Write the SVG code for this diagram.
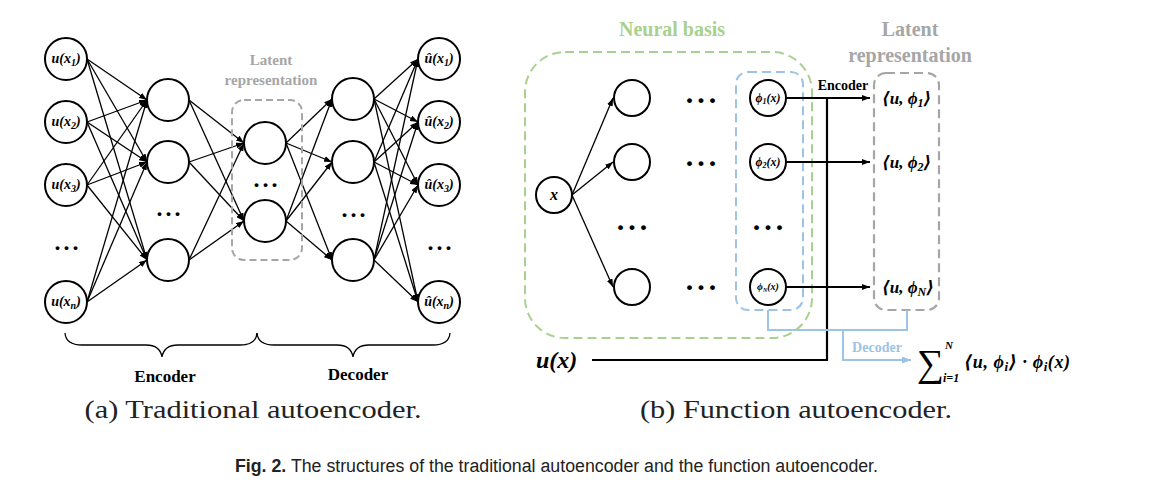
<svg xmlns="http://www.w3.org/2000/svg" width="1153" height="491" viewBox="0 0 1153 491">
<defs>
<marker id="ah" viewBox="0 0 10 10" refX="10" refY="5" markerUnits="userSpaceOnUse" markerWidth="8" markerHeight="6" preserveAspectRatio="none" orient="auto"><path d="M0,0 L10,5 L0,10 z" fill="#000"/></marker>
<marker id="ahb" viewBox="0 0 10 10" refX="10" refY="5" markerUnits="userSpaceOnUse" markerWidth="9" markerHeight="7" preserveAspectRatio="none" orient="auto"><path d="M0,0 L10,5 L0,10 z" fill="#9dc3e6"/></marker>
</defs>
<style>
.n{fill:#fff;stroke:#000;stroke-width:2}
.e{stroke:#000;stroke-width:1.3;fill:none;marker-end:url(#ah)}
.ml{font-family:"Liberation Serif","DejaVu Serif",serif;font-weight:bold;font-style:italic;fill:#000}
.dots{font-family:"Liberation Serif",serif;font-weight:bold;fill:#000;text-anchor:middle}
.lbl{font-family:"Liberation Serif",serif;font-weight:bold;fill:#000;text-anchor:middle}
.gray{fill:#a6a6a6}
.cap{font-family:"Liberation Serif",serif;fill:#222;text-anchor:middle}
.sub{font-size:10px}
</style>
<rect width="1153" height="491" fill="#fff"/>

<!-- ============ LEFT: traditional autoencoder ============ -->
<g id="left-edges">
<line class="e" x1="87" y1="59" x2="147" y2="100"/><line class="e" x1="87" y1="59" x2="147" y2="162"/><line class="e" x1="87" y1="59" x2="147" y2="260"/>
<line class="e" x1="87" y1="122" x2="147" y2="100"/><line class="e" x1="87" y1="122" x2="147" y2="162"/><line class="e" x1="87" y1="122" x2="147" y2="260"/>
<line class="e" x1="87" y1="185" x2="147" y2="100"/><line class="e" x1="87" y1="185" x2="147" y2="162"/><line class="e" x1="87" y1="185" x2="147" y2="260"/>
<line class="e" x1="87" y1="302" x2="147" y2="100"/><line class="e" x1="87" y1="302" x2="147" y2="162"/><line class="e" x1="87" y1="302" x2="147" y2="260"/>
<line class="e" x1="189" y1="100" x2="244" y2="143"/><line class="e" x1="189" y1="100" x2="244" y2="221"/>
<line class="e" x1="189" y1="162" x2="244" y2="143"/><line class="e" x1="189" y1="162" x2="244" y2="221"/>
<line class="e" x1="189" y1="260" x2="244" y2="143"/><line class="e" x1="189" y1="260" x2="244" y2="221"/>
<line class="e" x1="286" y1="143" x2="332" y2="99"/><line class="e" x1="286" y1="143" x2="332" y2="162"/><line class="e" x1="286" y1="143" x2="332" y2="260"/>
<line class="e" x1="286" y1="221" x2="332" y2="99"/><line class="e" x1="286" y1="221" x2="332" y2="162"/><line class="e" x1="286" y1="221" x2="332" y2="260"/>
<line class="e" x1="374" y1="99" x2="418" y2="59"/><line class="e" x1="374" y1="99" x2="418" y2="122"/><line class="e" x1="374" y1="99" x2="418" y2="185"/><line class="e" x1="374" y1="99" x2="418" y2="302"/>
<line class="e" x1="374" y1="162" x2="418" y2="59"/><line class="e" x1="374" y1="162" x2="418" y2="122"/><line class="e" x1="374" y1="162" x2="418" y2="185"/><line class="e" x1="374" y1="162" x2="418" y2="302"/>
<line class="e" x1="374" y1="260" x2="418" y2="59"/><line class="e" x1="374" y1="260" x2="418" y2="122"/><line class="e" x1="374" y1="260" x2="418" y2="185"/><line class="e" x1="374" y1="260" x2="418" y2="302"/>
</g>

<g id="latent-box-left">
<rect x="232" y="100" width="70" height="160" rx="12" fill="none" stroke="#a6a6a6" stroke-width="2" stroke-dasharray="7,4"/>
<text class="lbl gray" x="271" y="65" font-size="15">Latent</text>
<text class="lbl gray" x="271" y="85" font-size="15">representation</text>
</g>

<g id="in1"><circle class="n" cx="66" cy="59" r="21"/><text class="ml" x="66" y="63" font-size="14" text-anchor="middle">u(x<tspan class="sub" dy="3">1</tspan><tspan dy="-3">)</tspan></text></g>
<g id="in2"><circle class="n" cx="66" cy="122" r="21"/><text class="ml" x="66" y="126" font-size="14" text-anchor="middle">u(x<tspan class="sub" dy="3">2</tspan><tspan dy="-3">)</tspan></text></g>
<g id="in3"><circle class="n" cx="66" cy="185" r="21"/><text class="ml" x="66" y="189" font-size="14" text-anchor="middle">u(x<tspan class="sub" dy="3">3</tspan><tspan dy="-3">)</tspan></text></g>
<g id="inn"><circle class="n" cx="66" cy="302" r="21"/><text class="ml" x="66" y="306" font-size="14" text-anchor="middle">u(x<tspan class="sub" dy="3">n</tspan><tspan dy="-3">)</tspan></text></g>
<text class="dots" x="68" y="250" font-size="24" letter-spacing="3">...</text>

<g id="h1"><circle class="n" cx="168" cy="100" r="21"/></g>
<g id="h2"><circle class="n" cx="168" cy="162" r="21"/></g>
<g id="h3"><circle class="n" cx="168" cy="260" r="21"/></g>
<text class="dots" x="170" y="216" font-size="24" letter-spacing="3">...</text>

<g id="z1"><circle class="n" cx="265" cy="143" r="21"/></g>
<g id="z2"><circle class="n" cx="265" cy="221" r="21"/></g>
<text class="dots" x="267" y="187" font-size="24" letter-spacing="3">...</text>

<g id="d1"><circle class="n" cx="353" cy="99" r="21"/></g>
<g id="d2"><circle class="n" cx="353" cy="162" r="21"/></g>
<g id="d3"><circle class="n" cx="353" cy="260" r="21"/></g>
<text class="dots" x="355" y="217" font-size="24" letter-spacing="3">...</text>

<g id="out1"><circle class="n" cx="439" cy="59" r="21"/><text class="ml" x="439" y="63" font-size="14" text-anchor="middle">û(x<tspan class="sub" dy="3">1</tspan><tspan dy="-3">)</tspan></text></g>
<g id="out2"><circle class="n" cx="439" cy="122" r="21"/><text class="ml" x="439" y="126" font-size="14" text-anchor="middle">û(x<tspan class="sub" dy="3">2</tspan><tspan dy="-3">)</tspan></text></g>
<g id="out3"><circle class="n" cx="439" cy="185" r="21"/><text class="ml" x="439" y="189" font-size="14" text-anchor="middle">û(x<tspan class="sub" dy="3">3</tspan><tspan dy="-3">)</tspan></text></g>
<g id="outn"><circle class="n" cx="439" cy="302" r="21"/><text class="ml" x="439" y="306" font-size="14" text-anchor="middle">û(x<tspan class="sub" dy="3">n</tspan><tspan dy="-3">)</tspan></text></g>
<text class="dots" x="441" y="250" font-size="24" letter-spacing="3">...</text>

<g id="braces" fill="none" stroke="#000" stroke-width="1.3">
<path d="M65,333 Q66,345 82,345 L146,345 Q160,345 162,357 Q164,345 178,345 L240,345 Q256,345 257,333"/>
<path d="M257,333 Q258,345 274,345 L337,345 Q351,345 353,357 Q355,345 369,345 L433,345 Q449,345 450,333"/>
</g>
<text class="lbl" x="165" y="382" font-size="17">Encoder</text>
<text class="lbl" x="358" y="380" font-size="17">Decoder</text>
<text class="cap" x="253" y="418" font-size="26" textLength="337" lengthAdjust="spacingAndGlyphs">(a) Traditional autoencoder.</text>

<!-- ============ RIGHT: function autoencoder ============ -->
<g id="neural-basis-box">
<rect x="525" y="52" width="287" height="286" rx="40" fill="none" stroke="#a9d18e" stroke-width="2" stroke-dasharray="9,5"/>
<text class="lbl" x="672" y="36" font-size="20" style="fill:#a9d18e">Neural basis</text>
</g>
<g id="basis-box">
<rect x="736" y="72" width="67" height="238" rx="12" fill="none" stroke="#9dc3e6" stroke-width="2" stroke-dasharray="9,5"/>
</g>
<g id="latent-box-right">
<rect x="874" y="73" width="65" height="237" rx="12" fill="none" stroke="#a6a6a6" stroke-width="2.2" stroke-dasharray="9,5"/>
<text class="lbl gray" x="910" y="36" font-size="20">Latent</text>
<text class="lbl gray" x="910" y="62" font-size="20">representation</text>
</g>

<g id="right-connectors">
<line class="e" x1="572" y1="195" x2="613" y2="98"/>
<line class="e" x1="572" y1="195" x2="613" y2="162"/>
<line class="e" x1="572" y1="195" x2="613" y2="287"/>
<line class="e" x1="786" y1="98" x2="870" y2="98" style="stroke-width:2"/>
<line class="e" x1="786" y1="162" x2="870" y2="162" style="stroke-width:2"/>
<line class="e" x1="786" y1="287" x2="870" y2="287" style="stroke-width:2"/>
<polyline points="592,360 827,360 827,98" fill="none" stroke="#000" stroke-width="2.2"/>
<polyline points="768,310 768,330 907,330 907,310" fill="none" stroke="#9dc3e6" stroke-width="2"/>
<polyline points="843,330 843,360 911,360" fill="none" stroke="#9dc3e6" stroke-width="2" marker-end="url(#ahb)"/>
</g>

<g id="xnode"><circle class="n" cx="554" cy="195" r="18"/><text class="ml" x="554" y="200" font-size="16" text-anchor="middle">x</text></g>
<g id="m1"><circle class="n" cx="632" cy="98" r="18"/></g>
<g id="m2"><circle class="n" cx="632" cy="162" r="18"/></g>
<g id="m3"><circle class="n" cx="632" cy="287" r="18"/></g>
<text class="dots" x="634" y="230" font-size="30" letter-spacing="4">...</text>
<text class="dots" x="703" y="103" font-size="30" letter-spacing="4">...</text>
<text class="dots" x="703" y="166" font-size="30" letter-spacing="4">...</text>
<text class="dots" x="703" y="290" font-size="30" letter-spacing="4">...</text>
<text class="dots" x="770" y="230" font-size="30" letter-spacing="4">...</text>

<g id="phi1"><circle class="n" cx="768" cy="98" r="18"/><text class="ml" x="768" y="102" font-size="12" text-anchor="middle">ϕ<tspan font-size="8" dy="2">1</tspan><tspan dy="-2">(x)</tspan></text></g>
<g id="phi2"><circle class="n" cx="768" cy="162" r="18"/><text class="ml" x="768" y="166" font-size="12" text-anchor="middle">ϕ<tspan font-size="8" dy="2">2</tspan><tspan dy="-2">(x)</tspan></text></g>
<g id="phiN"><circle class="n" cx="768" cy="287" r="18"/><text class="ml" x="768" y="290" font-size="10" text-anchor="middle">ϕ<tspan font-size="6" dy="2">N</tspan><tspan dy="-2">(x)</tspan></text></g>

<text class="lbl" x="843" y="90" font-size="14">Encoder</text>
<text class="ml" x="882" y="104" font-size="17">⟨u, ϕ<tspan font-size="12" dy="3">1</tspan><tspan dy="-3">⟩</tspan></text>
<text class="ml" x="882" y="168" font-size="17">⟨u, ϕ<tspan font-size="12" dy="3">2</tspan><tspan dy="-3">⟩</tspan></text>
<text class="ml" x="882" y="293" font-size="17">⟨u, ϕ<tspan font-size="12" dy="3">N</tspan><tspan dy="-3">⟩</tspan></text>

<text class="ml" x="536" y="368" font-size="24">u(x)</text>
<text class="lbl" x="877" y="352" font-size="14" style="fill:#9dc3e6">Decoder</text>
<g id="sum">
<text x="917" y="376" font-size="38" font-family="Liberation Serif,DejaVu Serif,serif" fill="#000">∑</text>
<text class="ml" x="945" y="349" font-size="11">N</text>
<text class="ml" x="943" y="382" font-size="12">i=1</text>
<text class="ml" x="964" y="368" font-size="18" textLength="106">⟨u, ϕ<tspan font-size="13" dy="3">i</tspan><tspan dy="-3">⟩ · ϕ</tspan><tspan font-size="13" dy="3">i</tspan><tspan dy="-3">(x)</tspan></text>
</g>

<text class="cap" x="796" y="418" font-size="26" textLength="312" lengthAdjust="spacingAndGlyphs">(b) Function autoencoder.</text>

<text x="235" y="472" font-family="Liberation Sans,Arial,sans-serif" font-size="18" fill="#222" textLength="643" lengthAdjust="spacingAndGlyphs"><tspan font-weight="bold">Fig. 2.</tspan> The structures of the traditional autoencoder and the function autoencoder.</text>
</svg>
